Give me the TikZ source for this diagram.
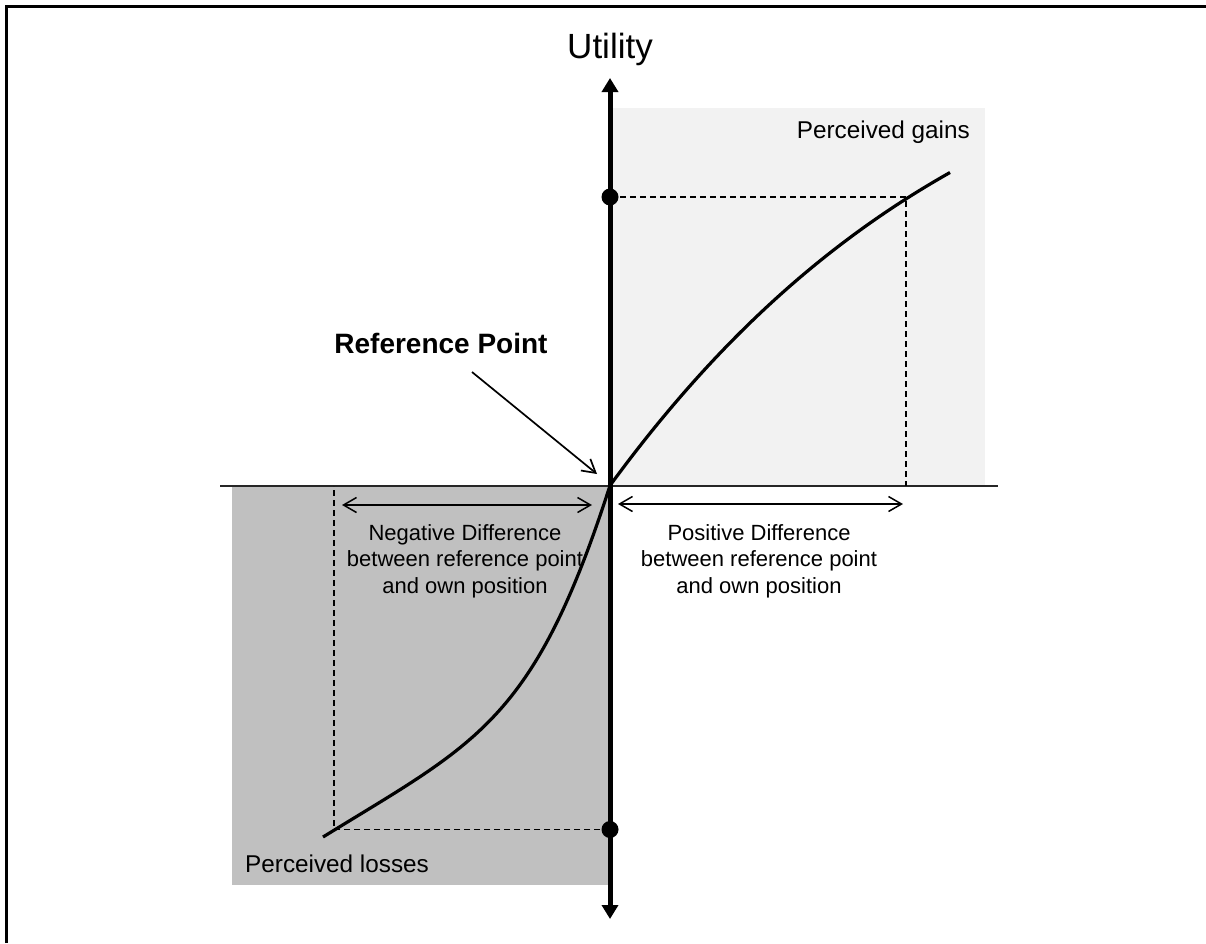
\documentclass[tikz,border=0pt]{standalone}
\usepackage{fontspec}
\setmainfont{Liberation Sans}
\usetikzlibrary{arrows.meta}

\definecolor{gainsgray}{HTML}{F2F2F2}
\definecolor{lossgray}{HTML}{C0C0C0}

\begin{document}
\begin{tikzpicture}[x=1pt,y=-1pt,
    axis/.style={line width=5pt},
    guide/.style={line width=1.8pt, dash pattern=on 6pt off 4pt},
    dimline/.style={line width=1.5pt, {Straight Barb[length=13pt,width=15pt]}-{Straight Barb[length=13pt,width=15pt]}},
    lbl/.style={inner sep=0pt, align=center, font=\fontsize{22}{26.5}\selectfont}]
    \useasboundingbox (0,0) rectangle (1206,943);

    % frame, only top and left
    \draw[line width=3pt] (6,943) -- (6,6.5) -- (1206,6.5);

    \coordinate (O) at (610,485.5);
    \coordinate (ytop) at (610,78);
    \coordinate (ybot) at (610,919);
    \coordinate (xl) at (220,485.5);
    \coordinate (xr) at (998,485.5);
    \coordinate (gain) at (906,197);
    \coordinate (loss) at (334,829.5);

    % shaded quadrants
    \fill[gainsgray] (O) rectangle (985,108);
    \fill[lossgray] (232,485.5) rectangle (O |- 0,885);

    \draw[line width=2pt, black!85] (xl) -- (xr);

    % guides to the utility values
    \draw[guide] (O |- gain) -- (gain) -- (gain |- O);
    \draw[guide] (O |- loss) -- (loss) -- (loss |- O);

    % value curve
    \draw[line width=3.2pt] (O) .. controls (716.8,339.4) and (828.2,241.2) .. (950,172.5);
    \draw[line width=3.2pt] (O) .. controls (533.7,722.8) and (476.2,742.5) .. (323,837);

    \draw[axis, {Triangle[length=14pt,width=16pt]}-{Triangle[length=14pt,width=16pt]}] (ybot) -- (ytop);
    \fill (O |- gain) circle (8.5pt);
    \fill (O |- loss) circle (8.5pt);

    \node[anchor=base, inner sep=0pt, font=\fontsize{35}{42}\selectfont] (utility) at (610,58) {Utility};
    \node[anchor=base east, inner sep=0pt, font=\fontsize{24.3}{29}\selectfont] (gains) at (970,138) {Perceived gains};
    \node[anchor=base west, inner sep=0pt, font=\fontsize{24.3}{29}\selectfont] (losses) at (245,872) {Perceived losses};
    \node[anchor=base, inner sep=0pt, font=\bfseries\fontsize{28}{34}\selectfont] (refpt) at (441,353) {Reference Point};

    \coordinate (refa) at (472,372);
    \coordinate (refb) at (597,474);
    \draw[line width=1.7pt, -{Straight Barb[length=13pt,width=15pt]}] (refa) -- (refb);

    % differences to the reference point
    \coordinate (nl) at (342,505);
    \coordinate (nr) at (592,505);
    \coordinate (pl) at (618,504);
    \coordinate (pr) at (903,504);
    \draw[dimline] (nl) -- (nr);
    \draw[dimline] (pl) -- (pr);
    \node[lbl, anchor=north] (negdiff) at (465,524) {Negative Difference\\between reference point\\and own position};
    \node[lbl, anchor=north] (posdiff) at (759,524) {Positive Difference\\between reference point\\and own position};
\end{tikzpicture}
\end{document}
